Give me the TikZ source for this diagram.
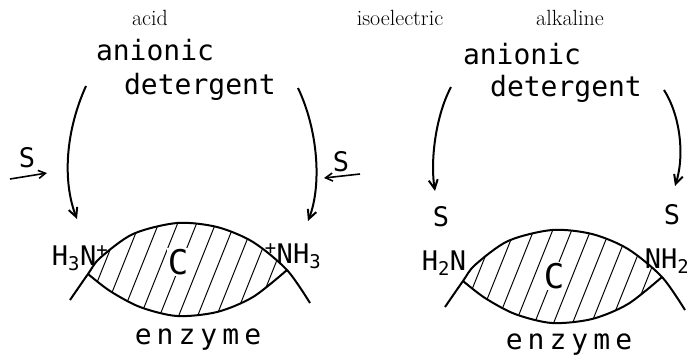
\documentclass[tikz,border=0pt]{standalone}
\usepackage{fontspec}
\usetikzlibrary{arrows.meta}
\newfontfamily\handfont{DejaVu Sans Mono}
\newfontfamily\handwide[LetterSpace=18]{DejaVu Sans Mono}
\newcommand{\enzymelens}{%
  \begin{scope}
    \clip plot[smooth] coordinates {(88,274) (100,258) (133,234) (177,223) (217,227) (253,242) (287,270)}
      -- plot[smooth] coordinates {(287,270) (253,297) (217,312) (177,316) (140,307) (110,291) (88,274)} -- cycle;
    \foreach \k in {0,...,13}
      \draw[hatch] (40+\k*19,330) -- ++(50,-125);
  \end{scope}
  \draw[rim] plot[smooth] coordinates {(70,300) (88,274) (100,258) (133,234) (177,223) (217,227) (253,242) (287,270) (310,303)};
  \draw[rim] plot[smooth] coordinates {(88,274) (110,291) (140,307) (177,316) (217,312) (253,297) (287,270)};
}

\begin{document}
\begin{tikzpicture}[x=1pt, y=-1pt,
    label/.style={font=\fontsize{22}{26}\selectfont, inner sep=0pt},
    hand/.style={font=\handfont\fontsize{28}{30}\selectfont, inner sep=0pt},
    handsmall/.style={font=\handfont\fontsize{27}{30}\selectfont, inner sep=0pt},
    bigC/.style={font=\handfont\fontsize{34}{36}\selectfont, inner sep=1pt, fill=white},
    bigarrow/.style={line width=2pt, -{Straight Barb[length=9pt,width=9pt]}},
    sarrow/.style={line width=1.6pt, -{Straight Barb[length=7pt,width=8pt]}},
    rim/.style={line width=2pt},
    hatch/.style={line width=1pt}]
  \useasboundingbox (0,0) rectangle (688,360);

  % headings
  \node[label] (acid) at (150,18) {acid};
  \node[label] (iso)  at (400,18) {isoelectric};
  \node[label] (alk)  at (570,18) {alkaline};

  % acid side
  \node[hand] (anion1) at (155,50) {anionic};
  \node[hand] (det1)   at (200,87) {detergent};
  \node[handsmall] (s1) at (27,158) {S};
  \node[handsmall] (s2) at (341,162) {S};
  \enzymelens
  \node[bigC] (c1) at (178,262) {C};
  \node[handsmall] (h3n) at (80,258) {H\textsubscript{3}N\textsuperscript{+}};
  \node[handsmall] (nh3) at (293,256) {\textsuperscript{+}NH\textsubscript{3}};
  \node[font=\handwide\fontsize{28}{30}\selectfont, inner sep=0pt] (enz1) at (198,340) {enzyme};

  \coordinate (a1) at (86,86);
  \coordinate (b1) at (77,219);
  \coordinate (a2) at (298,88);
  \coordinate (b2) at (308,221);
  \coordinate (p1) at (10,179);
  \coordinate (q1) at (47,173);
  \coordinate (p2) at (360,174);
  \coordinate (q2) at (324,178);
  \draw[bigarrow] (a1) .. controls (66,130) and (62,180) .. (b1);
  \draw[bigarrow] (a2) .. controls (318,130) and (322,185) .. (b2);
  \draw[sarrow] (p1) -- (q1);
  \draw[sarrow] (p2) -- (q2);

  % alkaline side
  \node[hand] (anion2) at (522,54) {anionic};
  \node[hand] (det2)   at (566,89) {detergent};
  \node[handsmall] (s3) at (441,217) {S};
  \node[handsmall] (s4) at (672,215) {S};
  \begin{scope}[shift={(375,7)}]
    \enzymelens
  \end{scope}
  \node[bigC] (c2) at (554,276) {C};
  \node[handsmall] (h2n) at (444,263) {H\textsubscript{2}N};
  \node[handsmall] (nh2) at (667,261) {NH\textsubscript{2}};
  \node[font=\handwide\fontsize{28}{30}\selectfont, inner sep=0pt] (enz2) at (569,345) {enzyme};

  \coordinate (a3) at (451,87);
  \coordinate (b3) at (435,191);
  \coordinate (a4) at (664,90);
  \coordinate (b4) at (675,186);
  \draw[bigarrow] (a3) .. controls (436,115) and (430,160) .. (b3);
  \draw[bigarrow] (a4) .. controls (680,115) and (685,155) .. (b4);
\end{tikzpicture}
\end{document}
